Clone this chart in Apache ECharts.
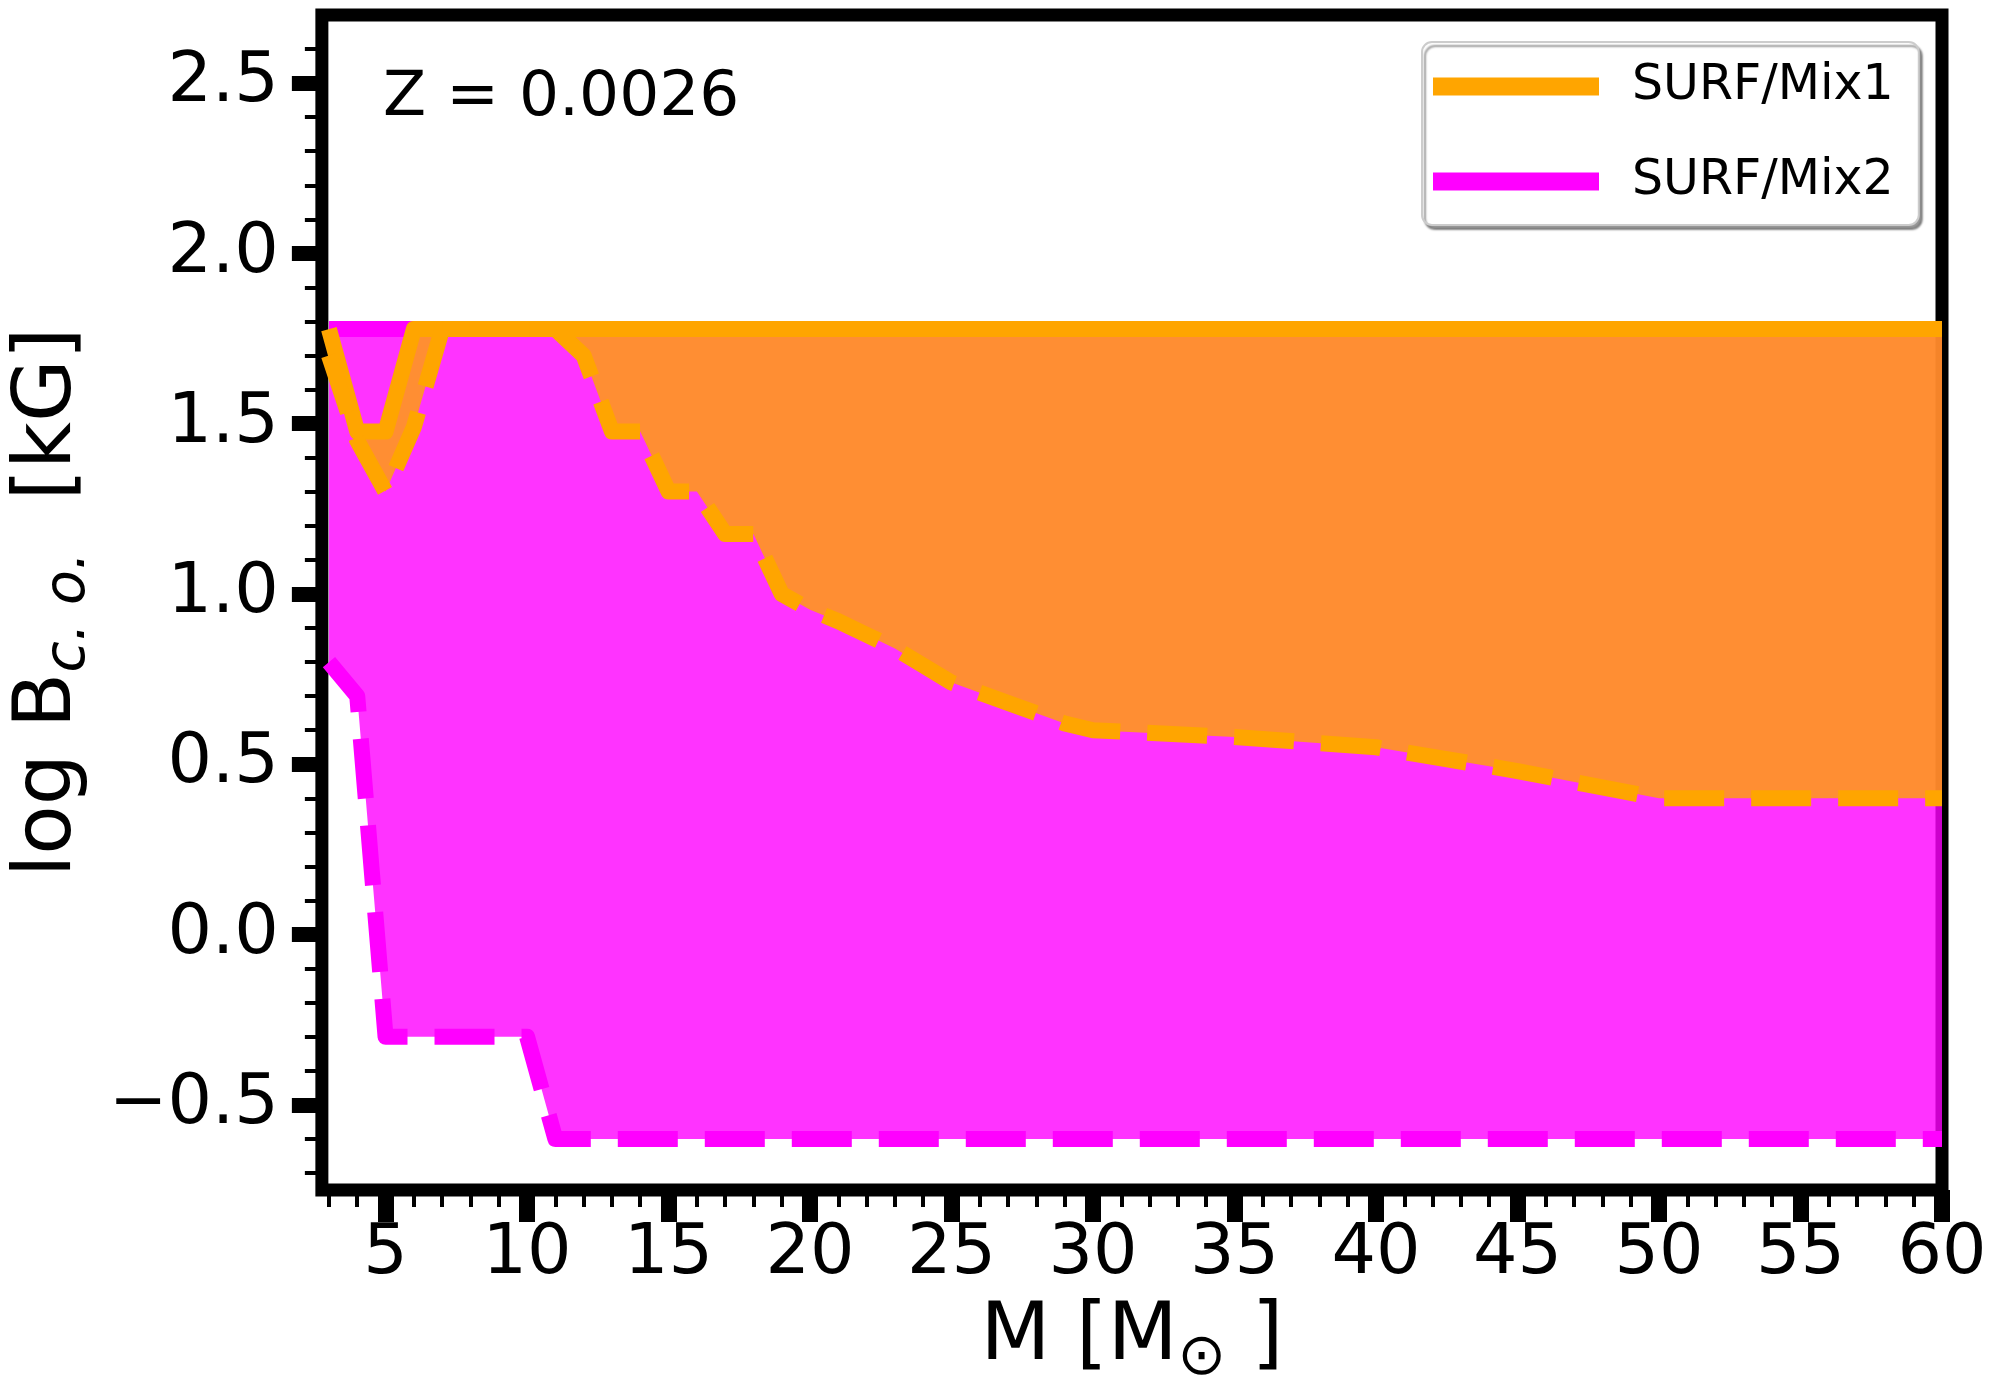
<!DOCTYPE html>
<html>
<head>
<meta charset="utf-8">
<script src="https://cdn.jsdelivr.net/npm/echarts@6/dist/echarts.min.js"></script>
<style>
  html, body { margin: 0; padding: 0; background: #fff; }
  #chart { width: 2000px; height: 1400px; }
</style>
</head>
<body>
<div id="chart"></div>
<script>
// initial mass grid [M_sun]
var masses = [3, 4, 5, 6, 7, 8, 9, 10, 11, 12, 13, 14, 15, 16, 17, 18, 19, 20,
  21, 22, 23, 24, 25, 26, 27, 28, 29, 30, 35, 40, 45, 50, 55, 60];

// SURF/Mix1 : log B_c.o. [kG] band
var mix1Upper = [1.778, 1.477, 1.477, 1.778, 1.778, 1.778, 1.778, 1.778, 1.778, 1.778,
  1.778, 1.778, 1.778, 1.778, 1.778, 1.778, 1.778, 1.778, 1.778, 1.778, 1.778, 1.778,
  1.778, 1.778, 1.778, 1.778, 1.778, 1.778, 1.778, 1.778, 1.778, 1.778, 1.778, 1.778];
var mix1Lower = [1.70, 1.45, 1.30, 1.49, 1.778, 1.778, 1.778, 1.778, 1.778, 1.70,
  1.477, 1.477, 1.301, 1.301, 1.176, 1.176, 1.00, 0.954, 0.92, 0.88, 0.84, 0.79,
  0.74, 0.71, 0.68, 0.65, 0.62, 0.60, 0.58, 0.55, 0.48, 0.40, 0.40, 0.40];

// SURF/Mix2 band
var mix2Upper = [1.778, 1.778, 1.778, 1.778, 1.778, 1.778, 1.778, 1.778, 1.778, 1.778,
  1.778, 1.778, 1.778, 1.778, 1.778, 1.778, 1.778, 1.778, 1.778, 1.778, 1.778, 1.778,
  1.778, 1.778, 1.778, 1.778, 1.778, 1.778, 1.778, 1.778, 1.778, 1.778, 1.778, 1.778];
var mix2Lower = [0.80, 0.70, -0.30, -0.30, -0.30, -0.30, -0.30, -0.30, -0.60, -0.60,
  -0.60, -0.60, -0.60, -0.60, -0.60, -0.60, -0.60, -0.60, -0.60, -0.60, -0.60, -0.60,
  -0.60, -0.60, -0.60, -0.60, -0.60, -0.60, -0.60, -0.60, -0.60, -0.60, -0.60, -0.60];

// axis ticks
var xMajorTicks = [5, 10, 15, 20, 25, 30, 35, 40, 45, 50, 55, 60];
var yMajorTicks = [-0.5, 0.0, 0.5, 1.0, 1.5, 2.0, 2.5];
var xMinorTicks = [];
for (var i = 3; i <= 60; i++) {
  if (i % 5 !== 0) xMinorTicks.push(i);
}
var yMinorTicks = [];
for (var k = -7; k <= 26; k++) {
  if (k % 5 !== 0) yMinorTicks.push(k / 10);
}

var FONT = 'DejaVu Sans';
var ORANGE = '#FFA500';
var MAGENTA = '#FF00FF';

function toPairs(vals) {
  return masses.map(function (m, i) { return [m, vals[i]]; });
}

// filled region between two curves, one polygon through the axes
function band(name, lower, upper, fill, z) {
  return {
    name: name,
    type: 'custom',
    z: z,
    silent: true,
    data: masses.map(function (m, i) { return [m, lower[i], upper[i]]; }),
    encode: { x: 0, y: [1, 2] },
    renderItem: function (params, api) {
      if (params.dataIndex !== 0) return null;
      var pts = [];
      for (var i = 0; i < masses.length; i++) pts.push(api.coord([masses[i], upper[i]]));
      for (var j = masses.length - 1; j >= 0; j--) pts.push(api.coord([masses[j], lower[j]]));
      return { type: 'polygon', shape: { points: pts }, style: { fill: fill } };
    }
  };
}

function curve(name, vals, color, dashed, z) {
  return {
    name: name,
    type: 'line',
    z: z,
    silent: true,
    color: color,
    data: toPairs(vals),
    symbol: 'none',
    showSymbol: false,
    lineStyle: {
      color: color,
      width: 16,
      type: dashed ? [60, 27] : 'solid',
      cap: 'butt',
      join: 'round'
    }
  };
}

var chart = echarts.init(document.getElementById('chart'));

var option = {
  animation: false,
  backgroundColor: '#fff',
  grid: {
    show: true,
    left: 321, right: 58, top: 15, bottom: 210,
    borderColor: '#000',
    borderWidth: 13,
    backgroundColor: 'transparent'
  },
  legend: {
    data: [
      { name: 'SURF/Mix1', icon: 'rect' },
      { name: 'SURF/Mix2', icon: 'rect' }
    ],
    orient: 'vertical',
    left: 1422, top: 42,
    itemWidth: 166, itemHeight: 18, itemGap: 46,
    padding: [20, 25, 19, 11],
    selectedMode: false,
    backgroundColor: '#fff',
    borderColor: '#cccccc',
    borderWidth: 2,
    borderRadius: 10,
    shadowColor: 'rgba(0,0,0,0.4)',
    shadowOffsetX: 3, shadowOffsetY: 4, shadowBlur: 2,
    textStyle: { fontFamily: FONT, fontSize: 49, color: '#000', padding: [0, 0, 0, 28] }
  },
  graphic: [{
    type: 'text',
    left: 383, top: 67,
    z: 10,
    style: { text: 'Z = 0.0026', font: '63px "DejaVu Sans"', fill: '#000' }
  }],
  xAxis: [{
    type: 'value',
    min: 2.75, max: 60,
    position: 'bottom',
    axisLine: { show: false, onZero: false },
    splitLine: { show: false },
    axisTick: { show: true, customValues: xMajorTicks, length: 32, lineStyle: { color: '#000', width: 16 } },
    axisLabel: { customValues: xMajorTicks, fontFamily: FONT, fontSize: 70, color: '#000', margin: 30 },
    name: '{a|M [M}{b|\u2299}{a| ]}',
    nameLocation: 'middle',
    nameGap: 98,
    nameTextStyle: {
      fontFamily: FONT, fontSize: 81, color: '#000',
      rich: {
        a: { fontFamily: FONT, fontSize: 81, color: '#000' },
        b: { fontFamily: FONT, fontSize: 58, color: '#000', verticalAlign: 'bottom', padding: [42, 0, 0, 0] }
      }
    }
  }, {
    type: 'value',
    min: 2.75, max: 60,
    position: 'bottom',
    axisLine: { show: false, onZero: false },
    splitLine: { show: false },
    axisLabel: { show: false },
    axisTick: { show: true, customValues: xMinorTicks, length: 17, lineStyle: { color: '#000', width: 4 } }
  }],
  yAxis: [{
    type: 'value',
    min: -0.75, max: 2.7,
    position: 'left',
    axisLine: { show: false, onZero: false },
    splitLine: { show: false },
    axisTick: { show: true, customValues: yMajorTicks, length: 30, lineStyle: { color: '#000', width: 15 } },
    axisLabel: {
      customValues: yMajorTicks, fontFamily: FONT, fontSize: 70, color: '#000', margin: 43,
      formatter: function (v) { return v.toFixed(1).replace('-', '\u2212'); }
    },
    name: '{a|log B}{b|c. o.}{a|  [kG]}',
    nameLocation: 'middle',
    nameGap: 220,
    nameTextStyle: {
      fontFamily: FONT, fontSize: 81, color: '#000',
      rich: {
        a: { fontFamily: FONT, fontSize: 81, color: '#000' },
        b: { fontFamily: FONT, fontSize: 57, fontStyle: 'italic', color: '#000', verticalAlign: 'bottom', padding: [42, 0, 0, 0] }
      }
    }
  }, {
    type: 'value',
    min: -0.75, max: 2.7,
    position: 'left',
    axisLine: { show: false, onZero: false },
    splitLine: { show: false },
    axisLabel: { show: false },
    axisTick: { show: true, customValues: yMinorTicks, length: 17, lineStyle: { color: '#000', width: 4 } }
  }],
  series: [
    band('Mix2 band', mix2Lower, mix2Upper, 'rgba(255,0,255,0.8)', 2),
    band('Mix1 band', mix1Lower, mix1Upper, 'rgba(255,165,0,0.8)', 3),
    curve('SURF/Mix2', mix2Upper, MAGENTA, false, 4),
    curve('Mix2 lower', mix2Lower, MAGENTA, true, 4),
    curve('SURF/Mix1', mix1Upper, ORANGE, false, 5),
    curve('Mix1 lower', mix1Lower, ORANGE, true, 5)
  ]
};

chart.setOption(option);
</script>
</body>
</html>
